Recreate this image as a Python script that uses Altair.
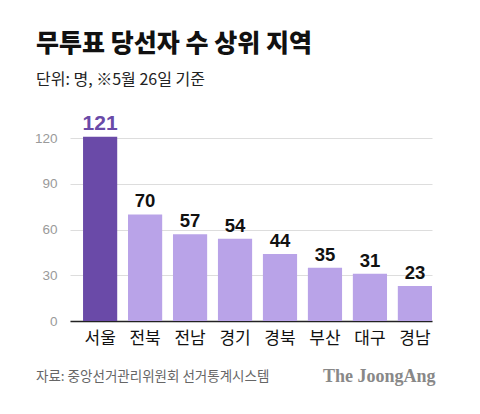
import altair as alt
import pandas as pd

regions = ["서울", "전북", "전남", "경기", "경북", "부산", "대구", "경남"]
counts = [121, 70, 57, 54, 44, 35, 31, 23]
highlight = [True, False, False, False, False, False, False, False]
y_ticks = [0, 30, 60, 90, 120]

title_text = "무투표 당선자 수 상위 지역"
subtitle_text = "단위: 명, ※5월 26일 기준"
source_text = "자료: 중앙선거관리위원회 선거통계시스템"
brand_text = "The JoongAng"

FONT = "Noto Sans CJK KR"
DARK = "#6a4aa8"
LIGHT = "#b9a3e8"

df = pd.DataFrame({"region": regions, "count": counts, "hl": highlight})

x_enc = alt.X("region:N", sort=regions, title=None,
              scale=alt.Scale(paddingInner=0.24, paddingOuter=0.145, align=1),
              axis=alt.Axis(labelAngle=0, labelFont=FONT, labelFontSize=17,
                            labelColor="#111", labelPadding=9, ticks=False,
                            domain=True, domainColor="#222", domainWidth=1.5))
y_enc = alt.Y("count:Q", title=None,
              scale=alt.Scale(domain=[0, 130], nice=False),
              axis=alt.Axis(values=y_ticks, labelFont="Liberation Sans",
                            labelFontSize=13.5, labelColor="#9a9a9a",
                            labelPadding=13, ticks=False, domain=False,
                            grid=True, gridColor="#dddddd", gridWidth=1))

bars = alt.Chart(df).mark_bar().encode(
    x=x_enc, y=y_enc,
    color=alt.condition("datum.hl", alt.value(DARK), alt.value(LIGHT)),
)

labels = alt.Chart(df).mark_text(
    font="Liberation Sans", fontWeight="bold",
    baseline="bottom", dy=-3,
).encode(
    x=alt.X("region:N", sort=regions),
    y=alt.Y("count:Q"),
    text=alt.Text("count:Q"),
    color=alt.condition("datum.hl", alt.value(DARK), alt.value("#111111")),
    size=alt.condition("datum.hl", alt.value(21), alt.value(18.5)),
)

def txt(s, x, y, **kw):
    return alt.Chart(pd.DataFrame({"t": [s]})).mark_text(
        align="left", baseline="middle", **kw
    ).encode(text="t:N", x=alt.value(x), y=alt.value(y))

title = txt(title_text, -34, -79, font=FONT, fontSize=25, fontWeight=900,
            color="#111111")
subtitle = txt(subtitle_text, -34, -43, font=FONT, fontSize=16,
               color="#222222")
source = txt(source_text, -34, 254, font=FONT, fontSize=13.5,
             color="#666666")
brand = txt(brand_text, 253, 254, font="Liberation Serif", fontSize=18,
            fontWeight="bold", color="#888888")

chart = alt.layer(bars, labels, title, subtitle, source, brand).properties(
    width=362, height=198,
    autosize=alt.AutoSizeParams(type="none"),
    padding={"left": 62, "top": 115, "right": 40, "bottom": 70},
).configure_view(stroke=None)

chart.save("out.html", embed_options={"renderer": "svg", "actions": False})
